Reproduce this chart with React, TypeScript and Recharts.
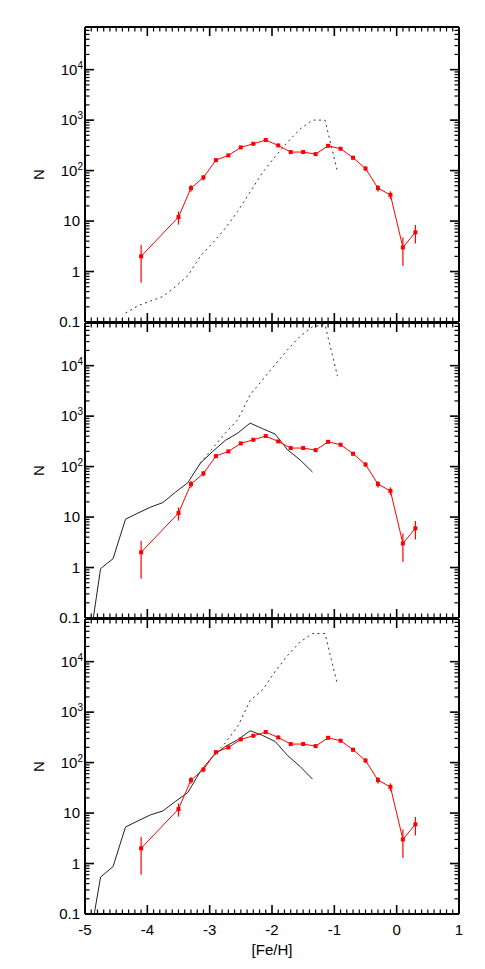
import React from "react";
import { ComposedChart, Line, XAxis, YAxis, ErrorBar, Label } from "recharts";

const FONT = '"Liberation Sans", Arial, Helvetica, sans-serif';
const W = 485;
const PLOT_LEFT = 85;
const PLOT_RIGHT = 459;
const PLOT_H = 295;
const MARGIN_TOP = 27;
const MARGIN_BOTTOM = 60;
const PANEL_TOPS = [27, 323, 619];

// observed [Fe/H] distribution (red, with error bars)
const obsFeH = [-4.1, -3.5, -3.3, -3.1, -2.9, -2.7, -2.5, -2.3, -2.1, -1.9, -1.7, -1.5, -1.3, -1.1, -0.9, -0.7, -0.5, -0.3, -0.1, 0.1, 0.3];
const obsN = [2, 12, 45, 73, 161, 200, 288, 340, 403, 315, 233, 233, 212, 310, 271, 180, 110, 45, 33, 3, 6];
const obsErr = [1.4, 3.5, 6.7, 8.5, 12.7, 14.1, 17, 18.4, 20.1, 17.7, 15.3, 15.3, 14.6, 17.6, 16.5, 13.4, 10.5, 6.7, 5.7, 1.7, 2.4];

// model grid
const modelFeH = [-4.95, -4.75, -4.55, -4.35, -4.15, -3.95, -3.75, -3.55, -3.35, -3.15, -2.95, -2.75, -2.55, -2.35, -2.15, -1.95, -1.75, -1.55, -1.35, -1.15, -0.95];

const panel1Dotted = [null, null, null, 0.15, 0.21, 0.26, 0.32, 0.5, 0.83, 2.0, 3.7, 7.2, 15.5, 38, 92, 190, 367, 665, 1000, 1000, 96];

const panel2Solid = [0.02, 0.95, 1.5, 9.1, 12, 15.7, 19.4, 31, 48, 117, 200, 330, 461, 728, 562, 441, 215, 136, 78, null, null];
const panel2Dotted = [null, null, null, null, null, null, null, null, null, 117, 233, 461, 850, 2660, 5270, 10500, 20700, 38000, 59000, 65000, 6200];

const panel3Solid = [0.02, 0.54, 0.87, 5.3, 7, 9.2, 11, 17, 25.5, 67, 133, 209, 283, 428, 345, 262, 138, 84, 47, null, null];
const panel3Dotted = [null, null, null, null, null, null, null, null, null, null, 133, 244, 520, 1700, 2780, 6400, 13300, 24500, 36000, 36000, 3500];

const xMajor = [-5, -4, -3, -2, -1, 0, 1];
const yMajor = [0.1, 1, 10, 100, 1000, 10000];
const yLabels = ["0.1", "1", "10", "10^2", "10^3", "10^4"];
const Y_DOMAIN = [0.1, 70000];

const xTicks: number[] = [];
for (let i = -50; i <= 10; i++) xTicks.push(i / 10);
const yTicks: number[] = [];
yMajor.forEach((d) => {
  for (let m = 1; m <= 9; m++) {
    if (m * d <= Y_DOMAIN[1]) yTicks.push(m * d);
  }
});

const obsData = obsFeH.map((x, i) => ({ feh: x, n: obsN[i], err: obsErr[i] }));

function isMajorX(v: number) {
  return xMajor.some((m) => Math.abs(v - m) < 1e-6);
}
function majorYIndex(v: number) {
  return yMajor.findIndex((m) => Math.abs(v - m) / m < 1e-6);
}

function XTick(props: any) {
  const { x, y, payload, side, showLabel } = props;
  const v = payload.value;
  const major = isMajorX(v);
  const len = major ? 9 : 4.5;
  const dir = side === "bottom" ? -1 : 1;
  return (
    <g>
      <line x1={x} y1={y} x2={x} y2={y + dir * len} stroke="#000" strokeWidth={major ? 1.6 : 1.2} />
      {showLabel && major && (
        <text x={x} y={y + 21} textAnchor="middle" fontSize={15} fontFamily={FONT} fill="#000">
          {String(Math.round(v))}
        </text>
      )}
    </g>
  );
}

function YTick(props: any) {
  const { x, y, payload, side } = props;
  const idx = majorYIndex(payload.value);
  const major = idx >= 0;
  const len = major ? 9 : 4.5;
  const dir = side === "left" ? 1 : -1;
  let label = null;
  if (side === "left" && major) {
    const txt = yLabels[idx];
    if (txt.includes("^")) {
      const [base, exp] = txt.split("^");
      label = (
        <text x={83} y={y + 5} textAnchor="end" fontSize={15} fontFamily={FONT} fill="#000">
          {base}
          <tspan dy={-6} fontSize={10}>{exp}</tspan>
        </text>
      );
    } else {
      label = (
        <text x={80} y={y + 5} textAnchor="end" fontSize={15} fontFamily={FONT} fill="#000">
          {txt}
        </text>
      );
    }
  }
  return (
    <g>
      <line x1={x} y1={y} x2={x + dir * len} y2={y} stroke="#000" strokeWidth={major ? 1.6 : 1.2} />
      {label}
    </g>
  );
}

function SquareDot(props: any) {
  const { cx, cy, index } = props;
  if (cx == null || cy == null) return <g key={`d${index}`} />;
  return <rect key={`d${index}`} x={cx - 2} y={cy - 2} width={4} height={4} fill="#ff0000" />;
}

const axisLine = { stroke: "#000", strokeWidth: 2 };

function Panel({ top, solid, dotted, last }: { top: number; solid: (number | null)[] | null; dotted: (number | null)[]; last: boolean }) {
  const modelData = modelFeH.map((x, i) => ({
    feh: x,
    solid: solid ? solid[i] : null,
    dotted: dotted[i],
  }));
  const h = MARGIN_TOP + PLOT_H + MARGIN_BOTTOM;
  const midY = MARGIN_TOP + PLOT_H / 2;
  return (
    <div style={{ position: "absolute", left: 0, top: top - MARGIN_TOP }}>
      <ComposedChart
        width={W}
        height={h}
        margin={{ top: MARGIN_TOP - 1, right: W - PLOT_RIGHT - 1, bottom: MARGIN_BOTTOM - 1, left: PLOT_LEFT - 1 }}
      >
        <XAxis
          xAxisId={0}
          dataKey="feh"
          type="number"
          domain={[-5, 1]}
          allowDataOverflow
          ticks={xTicks}
          interval={0}
          height={1}
          tickSize={0}
          tickMargin={0}
          tickLine={false}
          axisLine={axisLine}
          tick={(p: any) => <XTick {...p} side="bottom" showLabel={last} />}
        >
          {last && (
            <Label
              content={() => (
                <text x={272} y={MARGIN_TOP + PLOT_H + 41} textAnchor="middle" fontSize={15} fontFamily={FONT} fill="#000">
                  [Fe/H]
                </text>
              )}
            />
          )}
        </XAxis>
        <XAxis
          xAxisId="top"
          orientation="top"
          dataKey="feh"
          type="number"
          domain={[-5, 1]}
          allowDataOverflow
          ticks={xTicks}
          interval={0}
          height={1}
          tickSize={0}
          tickMargin={0}
          tickLine={false}
          axisLine={axisLine}
          tick={(p: any) => <XTick {...p} side="top" showLabel={false} />}
        />
        <YAxis
          yAxisId={0}
          scale="log"
          type="number"
          domain={Y_DOMAIN}
          allowDataOverflow
          ticks={yTicks}
          interval={0}
          width={1}
          tickSize={0}
          tickMargin={0}
          tickLine={false}
          axisLine={axisLine}
          tick={(p: any) => <YTick {...p} side="left" />}
        >
          <Label
            content={() => (
              <text
                x={44}
                y={midY}
                transform={`rotate(-90 44 ${midY})`}
                textAnchor="middle"
                fontSize={15}
                fontFamily={FONT}
                fill="#000"
              >
                N
              </text>
            )}
          />
        </YAxis>
        <YAxis
          yAxisId="right"
          orientation="right"
          scale="log"
          type="number"
          domain={Y_DOMAIN}
          allowDataOverflow
          ticks={yTicks}
          interval={0}
          width={1}
          tickSize={0}
          tickMargin={0}
          tickLine={false}
          axisLine={axisLine}
          tick={(p: any) => <YTick {...p} side="right" />}
        />
        <Line
          data={modelData}
          dataKey="dotted"
          type="linear"
          stroke="#333"
          strokeWidth={1}
          strokeDasharray="2 3.5"
          dot={false}
          isAnimationActive={false}
        />
        {solid && (
          <Line
            data={modelData}
            dataKey="solid"
            type="linear"
            stroke="#222"
            strokeWidth={1}
            dot={false}
            isAnimationActive={false}
          />
        )}
        <Line
          data={obsData}
          dataKey="n"
          type="linear"
          stroke="#ff0000"
          strokeWidth={1}
          dot={SquareDot}
          isAnimationActive={false}
        >
          <ErrorBar dataKey="err" direction="y" width={0} stroke="#ff0000" strokeWidth={1.2} isAnimationActive={false} />
        </Line>
      </ComposedChart>
    </div>
  );
}

export default function App() {
  return (
    <div style={{ position: "absolute", left: 0, top: 0, width: W, height: 969, background: "#fff" }}>
      <Panel top={PANEL_TOPS[0]} solid={null} dotted={panel1Dotted} last={false} />
      <Panel top={PANEL_TOPS[1]} solid={panel2Solid} dotted={panel2Dotted} last={false} />
      <Panel top={PANEL_TOPS[2]} solid={panel3Solid} dotted={panel3Dotted} last={true} />
    </div>
  );
}
